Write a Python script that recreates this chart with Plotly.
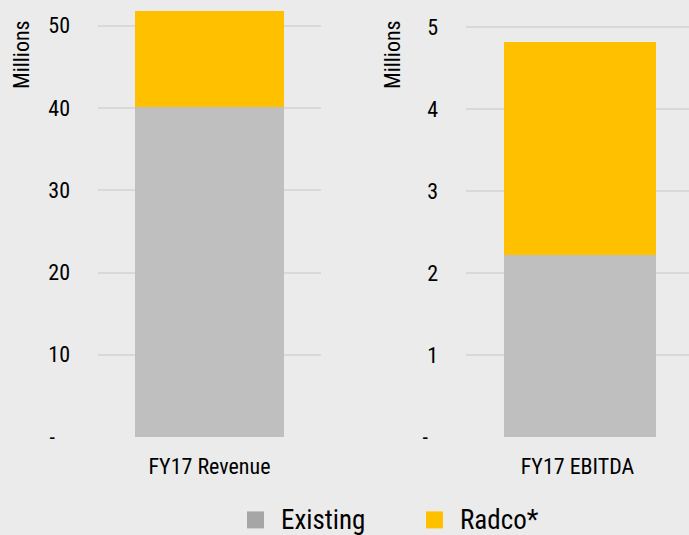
import plotly.graph_objects as go

# FY17 figures, in millions
revenue_cat = ["FY17 Revenue"]
ebitda_cat = ["FY17 EBITDA"]
existing_revenue = [40.1]
radco_revenue = [11.7]
existing_ebitda = [2.22]
radco_ebitda = [2.60]

rev_ticks = [0, 10, 20, 30, 40, 50]
rev_ticktext = ["-\u00a0\u00a0\u00a0", "10", "20", "30", "40", "50"]
ebitda_ticks = [0, 1, 2, 3, 4, 5]
ebitda_ticktext = ["-\u00a0\u00a0", "1", "2", "3", "4", "5"]

legend_names = ["Existing", "Radco*"]

GREY = "#bfbfbf"
GREY_KEY = "#a6a6a6"
GOLD = "#ffc000"
BG = "#ebebeb"
GRID = "#d9d9d9"
FONT = "Roboto Condensed, Arial Narrow, sans-serif"
WEIGHT = 400

W, H = 689, 535
MB = 97.5
PH = H - MB

fig = go.Figure()

bar_line = dict(width=0)
fig.add_trace(go.Bar(x=revenue_cat, y=existing_revenue, marker_color=GREY,
                     marker_line=bar_line, width=0.67, xaxis="x", yaxis="y",
                     showlegend=False))
fig.add_trace(go.Bar(x=revenue_cat, y=radco_revenue, marker_color=GOLD,
                     marker_line=bar_line, width=0.67, xaxis="x", yaxis="y",
                     showlegend=False))
fig.add_trace(go.Bar(x=ebitda_cat, y=existing_ebitda, marker_color=GREY,
                     marker_line=bar_line, width=0.68, offset=-0.329,
                     xaxis="x2", yaxis="y2", showlegend=False))
fig.add_trace(go.Bar(x=ebitda_cat, y=radco_ebitda, marker_color=GOLD,
                     marker_line=bar_line, width=0.68, offset=-0.329,
                     xaxis="x2", yaxis="y2", showlegend=False))

axis_font = dict(family=FONT, size=22, color="#000000", weight=WEIGHT)
cat_font = dict(family=FONT, size=22, color="#000000", weight=WEIGHT)

fig.update_layout(
    template="none",
    width=W, height=H,
    margin=dict(l=0, r=0, t=0, b=MB),
    paper_bgcolor=BG, plot_bgcolor=BG,
    barmode="stack",
    showlegend=False,
    xaxis=dict(domain=[98 / W, 321 / W], anchor="y", showgrid=False,
               tickfont=cat_font, ticks="", ticklabelstandoff=14,
               showline=False, zeroline=False),
    yaxis=dict(anchor="x", range=[0, 53.13], tickvals=rev_ticks,
               ticktext=rev_ticktext, tickfont=axis_font, showgrid=True,
               gridcolor=GRID, gridwidth=2, zeroline=False, showline=False,
               ticks="", ticklabelstandoff=27),
    xaxis2=dict(domain=[466 / W, 1.0], anchor="y2", showgrid=False,
                tickfont=cat_font, ticks="", ticklabelstandoff=14,
                showline=False, zeroline=False),
    yaxis2=dict(anchor="x2", range=[0, 5.335], tickvals=ebitda_ticks,
                ticktext=ebitda_ticktext, tickfont=axis_font, showgrid=True,
                gridcolor=GRID, gridwidth=2, zeroline=False, showline=False,
                ticks="", ticklabelstandoff=27),
)

# rotated unit labels at the top of each value axis
for xc in (22, 393):
    fig.add_annotation(text="Millions", textangle=-90, showarrow=False,
                       xref="paper", yref="paper", x=xc / W, y=1 - 55 / PH,
                       xanchor="center", yanchor="middle",
                       font=dict(family=FONT, size=22, color="#000000",
                                 weight=WEIGHT))

# legend keys below the panels
legend_colors = [GREY_KEY, GOLD]
key_x = [247, 426]
for name, col, kx in zip(legend_names, legend_colors, key_x):
    fig.add_shape(type="rect", xref="paper", yref="paper",
                  x0=kx / W, x1=(kx + 17) / W,
                  y0=1 - 529 / PH, y1=1 - 512 / PH,
                  fillcolor=col, line=dict(width=0))
    fig.add_annotation(text=name, showarrow=False, xref="paper", yref="paper",
                       x=(kx + 32) / W, y=1 - 521 / PH,
                       xanchor="left", yanchor="middle",
                       font=dict(family=FONT, size=27, color="#000000",
                                 weight=WEIGHT))

fig.write_html("out.html")
